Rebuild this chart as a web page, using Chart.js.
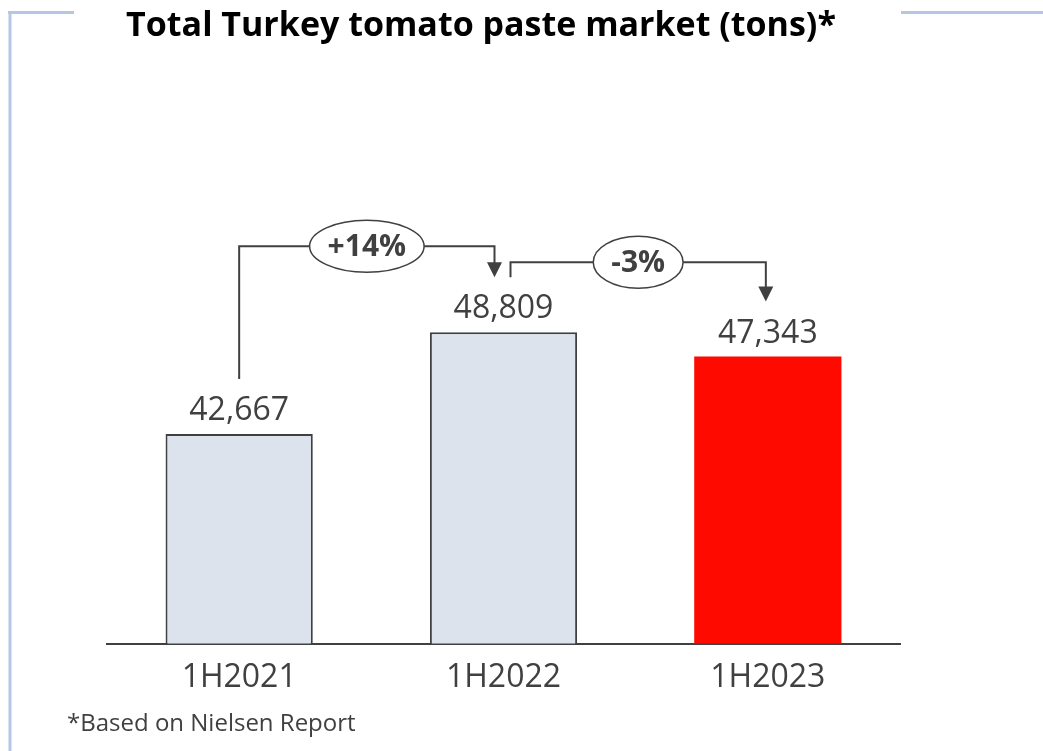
<!DOCTYPE html>
<html>
<head>
<meta charset="utf-8">
<title>Total Turkey tomato paste market</title>
<script src="https://cdn.jsdelivr.net/npm/chart.js@4/dist/chart.umd.min.js"></script>
<style>
  html, body { margin: 0; padding: 0; background: #fff; }
  #wrap { width: 1043px; height: 751px; position: relative; }
</style>
</head>
<body>
<div id="wrap"><canvas id="marketChart"></canvas></div>
<script>
const periods = ['1H2021', '1H2022', '1H2023'];
const tons = [42667, 48809, 47343];
const barColors = ['#dde3ec', '#dde3ec', '#fe0a00'];
const barBorders = ['#404040', '#404040', '#fe0a00'];
// growth labels between consecutive periods: [from index, to index, text]
const changes = [[0, 1, '+14%'], [1, 2, '-3%']];

const TEXT = '#404040';
const FONT = '"Open Sans", sans-serif';
const FRAME = '#b4c7e7';

// frame lines, title, footnote, value labels and change brackets
const decorPlugin = {
    id: 'decor',
    afterDraw(chart) {
        const ctx = chart.ctx;
        const bars = chart.getDatasetMeta(0).data;
        ctx.save();

        // light blue frame
        ctx.strokeStyle = FRAME;
        ctx.lineWidth = 3;
        ctx.beginPath();
        ctx.moveTo(8, 12.5); ctx.lineTo(74, 12.5);
        ctx.moveTo(10, 11); ctx.lineTo(10, chart.height);
        ctx.moveTo(901, 12.5); ctx.lineTo(chart.width, 12.5);
        ctx.stroke();

        // title
        ctx.fillStyle = '#000';
        ctx.font = 'bold 34px ' + FONT;
        ctx.textAlign = 'center';
        ctx.textBaseline = 'alphabetic';
        ctx.fillText('Total Turkey tomato paste market (tons)*', 481, 36);

        // footnote
        ctx.fillStyle = TEXT;
        ctx.font = '24px ' + FONT;
        ctx.textAlign = 'left';
        ctx.fillText('*Based on Nielsen Report', 67, 731);

        // value labels
        ctx.font = '32px ' + FONT;
        ctx.textAlign = 'center';
        bars.forEach((bar, i) => {
            ctx.fillText(tons[i].toLocaleString('en-US'), bar.x, bar.y - 14);
        });

        // change brackets with arrows
        ctx.strokeStyle = TEXT;
        ctx.fillStyle = TEXT;
        ctx.lineWidth = 2;
        changes.forEach(([a, b, txt], k) => {
            const from = bars[a], to = bars[b];
            const x0 = k === 0 ? from.x : from.x + 7;
            const y0 = from.y - 55;
            const yTop = k === 0 ? to.y - 86 : from.y - 70;
            const x1 = k === 0 ? to.x - 9 : to.x - 2;
            const yTip = to.y - 55;
            ctx.beginPath();
            ctx.moveTo(x0, y0);
            ctx.lineTo(x0, yTop);
            ctx.lineTo(x1, yTop);
            ctx.lineTo(x1, yTip - 14);
            ctx.stroke();
            ctx.beginPath();
            ctx.moveTo(x1 - 7.5, yTip - 15);
            ctx.lineTo(x1 + 7.5, yTip - 15);
            ctx.lineTo(x1, yTip);
            ctx.closePath();
            ctx.fill();

            // ellipse with the percentage
            ctx.font = 'bold 30px ' + FONT;
            const tw = ctx.measureText(txt).width;
            const cx = (x0 + x1) / 2;
            ctx.beginPath();
            ctx.ellipse(cx, yTop, tw / 2 + 18, 26, 0, 0, Math.PI * 2);
            ctx.fillStyle = '#fff';
            ctx.fill();
            ctx.lineWidth = 1.5;
            ctx.stroke();
            ctx.lineWidth = 2;
            ctx.fillStyle = TEXT;
            ctx.textBaseline = 'middle';
            ctx.fillText(txt, cx, yTop + 1);
            ctx.textBaseline = 'alphabetic';
        });
        ctx.restore();
    }
};

const ctx = document.getElementById('marketChart').getContext('2d');
new Chart(ctx, {
    type: 'bar',
    data: {
        labels: periods,
        datasets: [{
            data: tons,
            backgroundColor: barColors,
            borderColor: barBorders,
            borderWidth: (c) => c.dataIndex === 2 ? 0 : { top: 2, left: 2, right: 2, bottom: 0 },
            categoryPercentage: 1,
            barPercentage: 0.557
        }]
    },
    options: {
        responsive: true,
        maintainAspectRatio: false,
        animation: false,
        layout: {
            padding: { top: 104, left: 107, right: 143, bottom: 47 }
        },
        plugins: {
            legend: { display: false },
            tooltip: { enabled: false }
        },
        scales: {
            x: {
                grid: { display: false },
                border: { display: true, color: TEXT, width: 2 },
                ticks: {
                    color: TEXT,
                    padding: 7,
                    font: { family: FONT, size: 32 }
                }
            },
            y: {
                display: false,
                min: 30000,
                max: 62600
            }
        }
    },
    plugins: [decorPlugin]
});
</script>
</body>
</html>
